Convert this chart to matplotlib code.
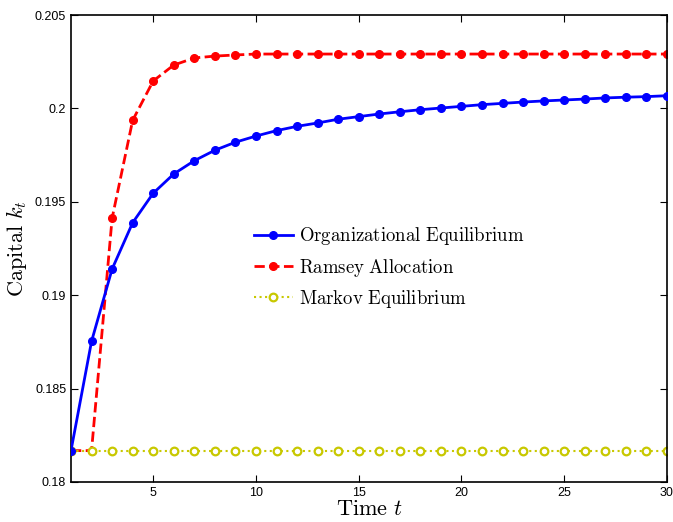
import numpy as np
import matplotlib as mpl
mpl.use("Agg")
import matplotlib.pyplot as plt

mpl.rcParams["font.family"] = ["Liberation Sans", "DejaVu Sans"]
mpl.rcParams["mathtext.fontset"] = "cm"

# time periods
t = np.arange(1, 31)

# capital paths
org_eq = [0.18168, 0.18753, 0.19140, 0.19388, 0.19546, 0.19649, 0.19720, 0.19776,
          0.19819, 0.19852, 0.19881, 0.19904, 0.19922, 0.19942, 0.19956, 0.19970,
          0.19982, 0.19993, 0.20002, 0.20011, 0.20020, 0.20027, 0.20034, 0.20040,
          0.20045, 0.20050, 0.20056, 0.20060, 0.20063, 0.20068]
ramsey = [0.18168, 0.18168, 0.19412, 0.19936, 0.20147, 0.20232, 0.20270, 0.20280,
          0.20286] + [0.20291] * 21
markov = [0.18168] * 30

fig = plt.figure(figsize=(6.73, 5.22), dpi=100)
ax = fig.add_axes([71 / 673, 40 / 522, 596 / 673, 467 / 522])

ax.plot(t, org_eq, "-o", color="blue", lw=2, ms=5.5, mfc="blue", mec="blue",
        label=r"$\mathrm{Organizational\ Equilibrium}$", zorder=3)
ax.plot(t, ramsey, "--o", color="red", lw=2, ms=5.5, mfc="red", mec="red",
        label=r"$\mathrm{Ramsey\ Allocation}$", zorder=2)
ax.plot(t, markov, ":o", color="#c8c800", lw=1.5, ms=5.5, mfc="white", mec="#c8c800",
        mew=1.6, label=r"$\mathrm{Markov\ Equilibrium}$", zorder=2)

ax.set_xlim(1, 30)
ax.set_ylim(0.18, 0.205)
ax.set_xticks([5, 10, 15, 20, 25, 30])
ax.set_yticks([0.18, 0.185, 0.19, 0.195, 0.2, 0.205])
ax.set_yticklabels(["0.18", "0.185", "0.19", "0.195", "0.2", "0.205"])
ax.tick_params(direction="in", top=True, right=True, labelsize=9, length=5)
for s in ax.spines.values():
    s.set_linewidth(1.2)

ax.set_xlabel(r"$\mathrm{Time}\ t$", fontsize=16, labelpad=0)
ax.set_ylabel(r"$\mathrm{Capital}\ k_t$", fontsize=16, labelpad=4)

ax.legend(loc="upper left", bbox_to_anchor=(0.278, 0.586), frameon=False,
          fontsize=13.5, handlelength=2.1, handletextpad=0.3, labelspacing=0.5)

fig.savefig("out.png", dpi=100)
